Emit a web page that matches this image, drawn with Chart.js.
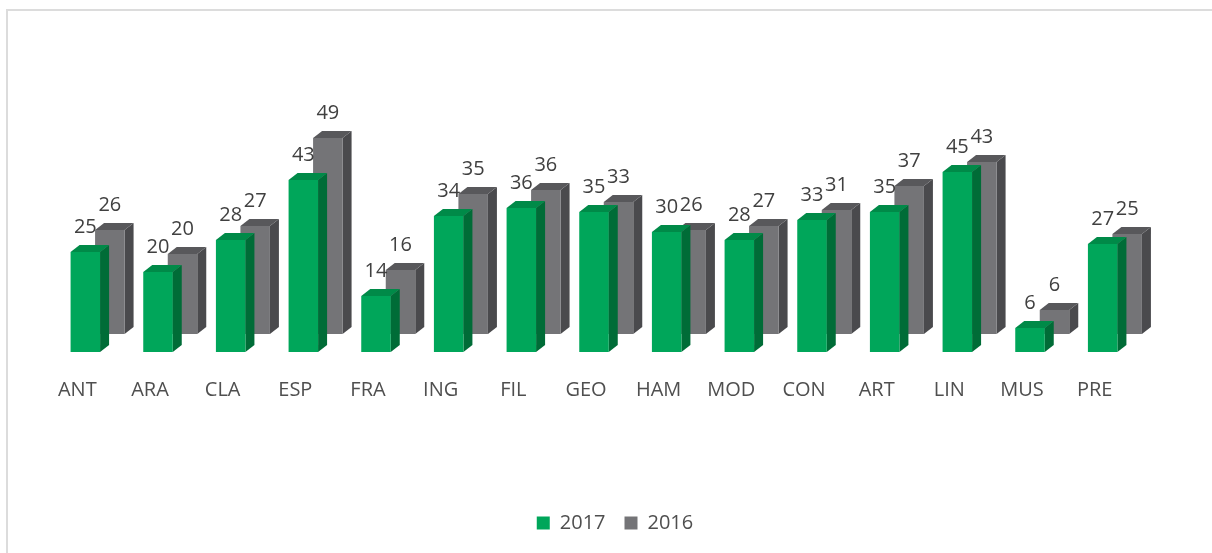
<!DOCTYPE html>
<html>
<head>
<meta charset="utf-8">
<script src="https://cdn.jsdelivr.net/npm/chart.js@4.4.1/dist/chart.umd.min.js"></script>
<style>
  html, body { margin: 0; padding: 0; background: #ffffff; }
  #wrap { position: relative; width: 1212px; height: 553px; overflow: hidden; }
  #frame { position: absolute; left: 6px; top: 9px; width: 1230px; height: 570px;
           border: 2px solid #dcdcdc; box-sizing: border-box; }
  canvas { position: absolute; left: 0; top: 0; }
</style>
</head>
<body>
<div id="wrap">
  <div id="frame"></div>
  <canvas id="chart" width="1212" height="553"></canvas>
</div>
<script>
// Departments (x axis) and enrolment counts per year
const categories = ['ANT', 'ARA', 'CLA', 'ESP', 'FRA', 'ING', 'FIL', 'GEO', 'HAM', 'MOD', 'CON', 'ART', 'LIN', 'MUS', 'PRE'];
const values2017 = [25, 20, 28, 43, 14, 34, 36, 35, 30, 28, 33, 35, 45, 6, 27];
const values2016 = [26, 20, 27, 49, 16, 35, 36, 33, 26, 27, 31, 37, 43, 6, 25];
const seriesNames = ['2017', '2016'];

const FONT = "'Open Sans', 'DejaVu Sans', sans-serif";

// face colours: front, top, side
const shades = [
  { front: '#00a65a', top: '#008a48', side: '#006c37' },
  { front: '#747477', top: '#58585b', side: '#4a4a4d' }
];

// each series sits one step further back along the oblique depth direction
const DEPTH = { dx: 9, dy: -7 };
const ROW_SHIFT = [{ x: 0, y: 0 }, { x: 24.5, y: -18 }];

function drawBox(ctx, left, right, top, bottom, c) {
  const { dx, dy } = DEPTH;
  ctx.fillStyle = c.side;
  ctx.beginPath();
  ctx.moveTo(right, top);
  ctx.lineTo(right + dx, top + dy);
  ctx.lineTo(right + dx, bottom + dy);
  ctx.lineTo(right, bottom);
  ctx.closePath();
  ctx.fill();

  ctx.fillStyle = c.top;
  ctx.beginPath();
  ctx.moveTo(left, top);
  ctx.lineTo(right, top);
  ctx.lineTo(right + dx, top + dy);
  ctx.lineTo(left + dx, top + dy);
  ctx.closePath();
  ctx.fill();

  ctx.fillStyle = c.front;
  ctx.fillRect(left, top, right - left, bottom - top);
}

const columns3d = {
  id: 'columns3d',
  beforeDatasetsDraw(chart) {
    const ctx = chart.ctx;
    ctx.save();
    // back row first, then front row
    for (let d = chart.data.datasets.length - 1; d >= 0; d--) {
      const meta = chart.getDatasetMeta(d);
      const s = ROW_SHIFT[d];
      meta.data.forEach((bar) => {
        const p = bar.getProps(['x', 'y', 'base', 'width'], true);
        const left = p.x - p.width / 2 + s.x;
        drawBox(ctx, left, left + p.width, p.y + s.y, p.base + s.y, shades[d]);
      });
    }
    // value labels
    ctx.font = '20px ' + FONT;
    ctx.fillStyle = '#404040';
    ctx.textAlign = 'center';
    ctx.textBaseline = 'middle';
    for (let d = chart.data.datasets.length - 1; d >= 0; d--) {
      const meta = chart.getDatasetMeta(d);
      const s = ROW_SHIFT[d];
      const vals = chart.data.datasets[d].data;
      meta.data.forEach((bar, i) => {
        const p = bar.getProps(['x', 'y'], true);
        ctx.fillText(String(vals[i]), p.x + s.x, p.y + s.y - 25);
      });
    }
    ctx.restore();
    return false;
  }
};

new Chart(document.getElementById('chart'), {
  type: 'bar',
  data: {
    labels: categories,
    datasets: [
      { label: seriesNames[0], data: values2017, backgroundColor: shades[0].front, grouped: false,
        categoryPercentage: 1, barPercentage: 0.406 },
      { label: seriesNames[1], data: values2016, backgroundColor: shades[1].front, grouped: false,
        categoryPercentage: 1, barPercentage: 0.406 }
    ]
  },
  options: {
    responsive: false,
    animation: false,
    events: [],
    layout: { padding: { left: 18, right: 0, top: 112, bottom: 10 } },
    scales: {
      x: {
        grid: { display: false, drawTicks: false },
        border: { display: false },
        ticks: { color: '#4f4f4f', font: { family: FONT, size: 20 }, padding: 26, labelOffset: -8,
                 maxRotation: 0, autoSkip: false },
        afterFit(scale) { scale.height = 142; }
      },
      y: {
        min: 0, max: 60,
        grid: { display: false, drawTicks: false },
        border: { display: false },
        ticks: { display: false },
        afterFit(scale) { scale.width = 31; }
      },
      yRight: {
        position: 'right',
        min: 0, max: 60,
        grid: { display: false, drawTicks: false },
        border: { display: false },
        ticks: { display: false },
        afterFit(scale) { scale.width = 73; }
      }
    },
    plugins: {
      legend: {
        position: 'bottom',
        labels: {
          color: '#4f4f4f',
          font: { family: FONT, size: 20 },
          boxWidth: 13, boxHeight: 13,
          padding: 19
        }
      },
      tooltip: { enabled: false }
    }
  },
  plugins: [columns3d]
});
</script>
</body>
</html>
